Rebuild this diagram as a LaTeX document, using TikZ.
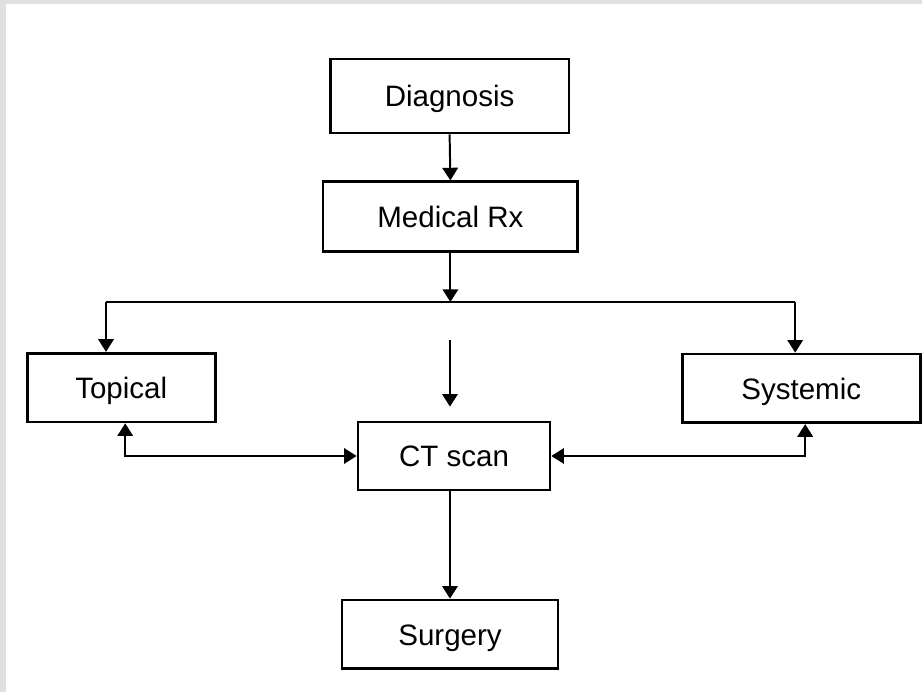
\documentclass[tikz,border=0pt]{standalone}
\usepackage{fontspec}
\setmainfont{Liberation Sans}
\usepackage{tikz}
\usetikzlibrary{arrows.meta}
\usetikzlibrary{positioning}
\definecolor{framegray}{HTML}{E0E0E0}
\tikzset{box/.style = {draw, line width = 1.9pt, minimum height = 1.72cm, inner sep = 0,
    text height = 15.1pt, text depth = 0pt, font = \fontsize{21}{25}\selectfont}}
\tikzset{link/.style = {line width = 1.4pt, -{Triangle[width = 11pt, length = 9pt]}}}
\tikzset{twoway/.style = {line width = 1.4pt, {Triangle[width = 11pt, length = 9pt]}-{Triangle[width = 11pt, length = 9pt]}}}

\begin{document}
\begin{tikzpicture}
      \fill [framegray] (0, 0) rectangle (23.05, 17.3);
      \fill [white] (0.16, 0) rectangle (23.05, 17.2);
      \useasboundingbox (0, 0) rectangle (23.05, 17.3);

      \node [box, minimum width = 5.97cm, minimum height = 1.85cm] (diagnosis) at (11.24, 14.9) {Diagnosis};
      \node [box, minimum width = 6.37cm, minimum height = 1.75cm] (medical) at (11.26, 11.88) {Medical Rx};

      \node [box, minimum width = 4.7cm] (topical) at (3.03, 7.61) {Topical};
      \node [box, minimum width = 5.95cm] (systemic) at (20.03, 7.59) {Systemic};
      \node [box, minimum width = 4.8cm, minimum height = 1.7cm] (ct) at (11.35, 5.9) {CT scan};

      \node [box, minimum width = 5.4cm] (surgery) at (11.25, 1.44) {Surgery};

      \coordinate (busleft) at (2.65, 9.75);
      \coordinate (busright) at (19.88, 9.75);
      \coordinate (mid) at (11.25, 8.8);

      \draw [link] (diagnosis.south) -- (medical.north);
      \draw [link] (medical.south) -- (medical.south |- busleft);
      \draw [line width = 1.4pt] (busleft) -- (busright);
      \draw [link] (busleft) -- (busleft |- topical.north);
      \draw [link] (busright) -- (busright |- systemic.north);

      \draw [link, shorten >= 0.35cm] (mid) -- (mid |- ct.north);
      \draw [twoway] ([xshift = 0.1cm] topical.south) |- (ct.west);
      \draw [twoway] ([xshift = 0.1cm] systemic.south) |- (ct.east);

      \draw [link] (surgery.north |- ct.south) -- (surgery.north);
    \end{tikzpicture}
\end{document}
